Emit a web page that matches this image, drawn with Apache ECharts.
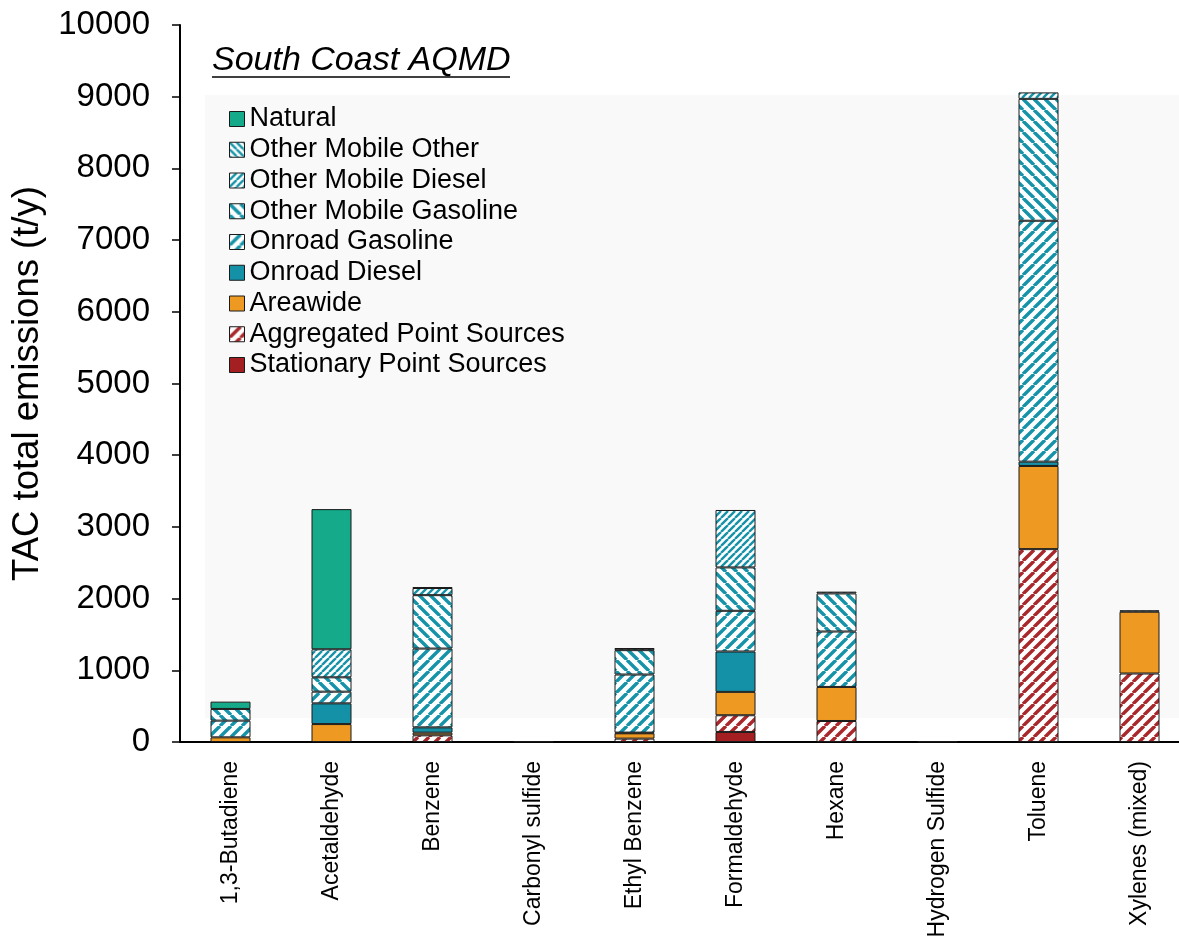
<!DOCTYPE html>
<html>
<head>
<meta charset="utf-8">
<script src="https://cdn.jsdelivr.net/npm/echarts@6/dist/echarts.min.js"></script>
<style>html,body{margin:0;padding:0;background:#fff;}#c{width:1179px;height:937px;}</style>
</head>
<body>
<div id="c"></div>
<script>
// ---- data (t/y), category order ----
const categories = ['1,3-Butadiene','Acetaldehyde','Benzene','Carbonyl sulfide','Ethyl Benzene','Formaldehyde','Hexane','Hydrogen Sulfide','Toluene','Xylenes (mixed)'];
const stationaryPoint   = [0,    0,    0,    8, 0,   140,  0,   8, 0,    0];
const aggregatedPoint   = [0,    0,    93,   0, 47,  233,  293, 0, 2690, 955];
const areawide          = [65,   250,  37,   0, 74,  326,  475, 0, 1160, 862];
const onroadDiesel      = [0,    289,  74,   0, 10,  563,  0,   0, 60,   0];
const onroadGasoline    = [233,  163,  1099, 0, 810, 568,  773, 0, 3360, 0];
const otherMobileGasoline = [163, 200, 745,  0, 340, 605,  531, 0, 1700, 0];
const otherMobileDiesel = [0,    391,  100,  0, 0,   801,  0,   0, 90,   0];
const otherMobileOther  = [0,    0,    10,   0, 30,  0,    25,  0, 0,    20];
const natural           = [102,  1955, 0,    0, 0,   0,    0,   0, 0,    0];
const yTicks = [0,1000,2000,3000,4000,5000,6000,7000,8000,9000,10000];

const FONT = "'Liberation Sans', Arial, Helvetica, sans-serif";
const TEAL = '#1693a8';
function stripes(color, p, lw, dir) {
  const c = document.createElement('canvas');
  c.width = p; c.height = p;
  const g = c.getContext('2d');
  g.fillStyle = '#ffffff'; g.fillRect(0, 0, p, p);
  g.strokeStyle = color; g.lineWidth = lw;
  g.beginPath();
  for (const k of [-1, 0, 1]) {
    if (dir === '/') { g.moveTo(k * p, p); g.lineTo(k * p + p, 0); }
    else { g.moveTo(k * p, 0); g.lineTo(k * p + p, p); }
  }
  g.stroke();
  return { image: c, repeat: 'repeat' };
}

const seriesDefs = [
  ['Stationary Point Sources', stationaryPoint, '#a41f22'],
  ['Aggregated Point Sources', aggregatedPoint, stripes('#a8282b', 11, 3.4, '/')],
  ['Areawide', areawide, '#ee9a22'],
  ['Onroad Diesel', onroadDiesel, '#1591a7'],
  ['Onroad Gasoline', onroadGasoline, stripes(TEAL, 11, 3.4, '/')],
  ['Other Mobile Gasoline', otherMobileGasoline, stripes(TEAL, 11, 3.4, '\\')],
  ['Other Mobile Diesel', otherMobileDiesel, stripes(TEAL, 7, 2.4, '/')],
  ['Other Mobile Other', otherMobileOther, stripes(TEAL, 7, 2.4, '\\')],
  ['Natural', natural, '#14aa8a']
];

const series = seriesDefs.map(([name, arr, color]) => ({
  name, type: 'bar', stack: 'all', barWidth: 40,
  data: arr.map(v => v === 0 ? '-' : v),
  itemStyle: { color, borderColor: '#1a1a1a', borderWidth: 1 },
  emphasis: { disabled: true }
}));

const chart = echarts.init(document.getElementById('c'), null, { renderer: 'canvas' });
chart.setOption({
  animation: false,
  backgroundColor: '#ffffff',
  textStyle: { fontFamily: FONT },
  grid: { left: 180, right: -11, top: 25, bottom: 195, containLabel: false, outerBoundsMode: 'none' },
  graphic: [
    { type: 'rect', z: -10, shape: { x: 205, y: 95, width: 980, height: 623 }, style: { fill: '#f9f9f9' } },
    { type: 'text', x: 212, y: 61, style: { text: 'South Coast AQMD', font: 'italic 34px ' + FONT, fill: '#000', verticalAlign: 'middle' } },
    { type: 'line', shape: { x1: 212, y1: 77, x2: 510, y2: 77 }, style: { stroke: '#000', lineWidth: 1.6 } }
  ],
  legend: {
    orient: 'vertical', left: 229, top: 104, padding: 0,
    itemWidth: 15, itemHeight: 15, itemGap: 0.75,
    icon: 'rect',
    data: ['Natural','Other Mobile Other','Other Mobile Diesel','Other Mobile Gasoline','Onroad Gasoline','Onroad Diesel','Areawide','Aggregated Point Sources','Stationary Point Sources'],
    itemStyle: { borderColor: '#1a1a1a', borderWidth: 1 },
    textStyle: { fontFamily: FONT, fontSize: 27, color: '#000', lineHeight: 30 },
    selectedMode: false
  },
  xAxis: {
    type: 'category', data: categories,
    axisLine: { lineStyle: { color: '#000', width: 2 } },
    axisTick: { length: 7, lineStyle: { color: '#444', width: 1.5 } },
    axisLabel: { rotate: 90, fontSize: 23, color: '#000', margin: 19, fontFamily: FONT, interval: 0 }
  },
  yAxis: {
    type: 'value', min: 0, max: 10000, interval: 1000,
    name: 'TAC total emissions (t/y)', nameLocation: 'middle', nameGap: 134, nameRotate: 90,
    nameTextStyle: { fontSize: 36.5, color: '#000', fontFamily: FONT },
    axisLine: { show: true, lineStyle: { color: '#000', width: 2 } },
    axisTick: { show: true, length: 8, lineStyle: { color: '#000', width: 1.5 } },
    axisLabel: { fontSize: 33, color: '#000', margin: 30, fontFamily: FONT,
      formatter: v => yTicks.includes(v) ? String(v) : '' },
    splitLine: { show: false }
  },
  series
});
</script>
</body>
</html>
